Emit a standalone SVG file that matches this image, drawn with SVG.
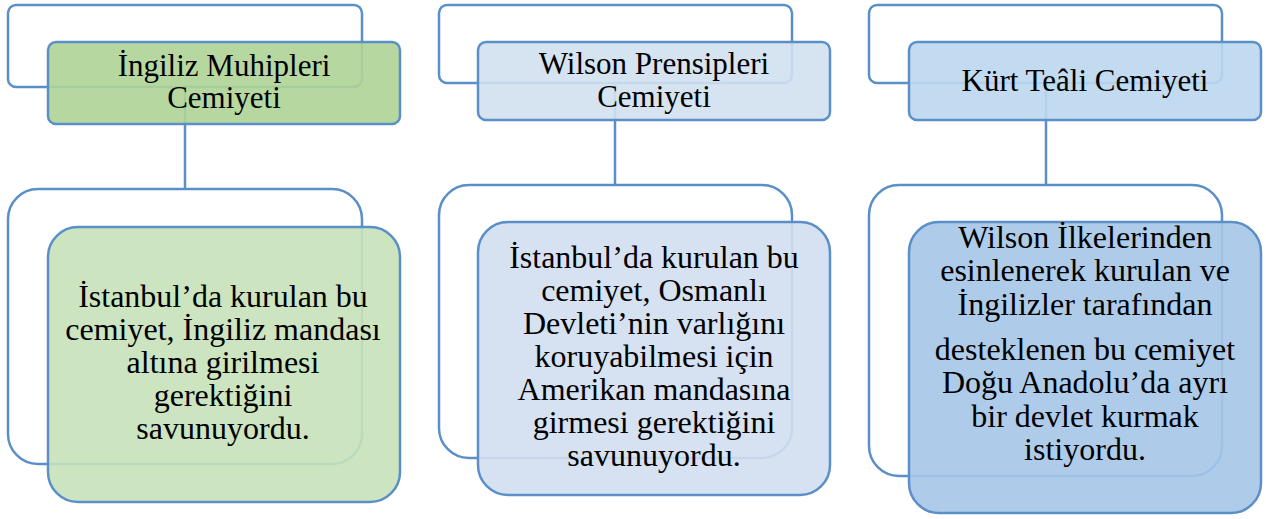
<svg xmlns="http://www.w3.org/2000/svg" width="1266" height="519" viewBox="0 0 1266 519">
<style>
.back{fill:#ffffff;stroke:#5b8fc8;stroke-width:2.5}
.front{stroke:#5b8fc8;stroke-width:2.5;fill-opacity:0.9}
.conn{stroke:#5b8fc8;stroke-width:2.5;fill:none}
text{font-family:"Liberation Serif","Times New Roman",serif;font-size:32px;fill:#000;text-anchor:middle}
text.t{font-size:31px}
.g1{fill:#aed496}
.g2{fill:#c7e2b9}
.b1{fill:#d2e0f0}
.b2{fill:#d2dff0}
.c1{fill:#bcd7ef}
.c2{fill:#a5c7e8}
</style>
<rect width="1266" height="519" fill="#ffffff"/>
<g id="backs">
<rect class="back" x="8" y="5" width="354" height="82" rx="8"/>
<rect class="back" x="8" y="189" width="354" height="275" rx="30"/>
<rect class="back" x="439" y="5" width="353" height="78" rx="8"/>
<rect class="back" x="439" y="185" width="353" height="273" rx="30"/>
<rect class="back" x="869" y="5" width="353" height="78" rx="8"/>
<rect class="back" x="869" y="185" width="353" height="291" rx="30"/>
</g>
<g id="connectors">
<line class="conn" x1="185" y1="85" x2="185" y2="189"/>
<line class="conn" x1="615" y1="85" x2="615" y2="185"/>
<line class="conn" x1="1046" y1="90" x2="1046" y2="185"/>
</g>
<g id="node-ingiliz-title">
<rect class="front g1" x="48" y="42" width="352" height="82" rx="8"/>
<text class="t" x="224" y="76">İngiliz Muhipleri</text>
<text class="t" x="224" y="108">Cemiyeti</text>
</g>
<g id="node-ingiliz-body">
<rect class="front g2" x="48" y="227" width="352" height="275" rx="30"/>
<text x="223" y="307">İstanbul’da kurulan bu</text>
<text x="223" y="340">cemiyet, İngiliz mandası</text>
<text x="223" y="373">altına girilmesi</text>
<text x="223" y="406">gerektiğini</text>
<text x="223" y="439">savunuyordu.</text>
</g>
<g id="node-wilson-title">
<rect class="front b1" x="478" y="42" width="352" height="78" rx="8"/>
<text class="t" x="654" y="74">Wilson Prensipleri</text>
<text class="t" x="654" y="107">Cemiyeti</text>
</g>
<g id="node-wilson-body">
<rect class="front b2" x="478" y="222" width="352" height="273" rx="30"/>
<text x="654" y="268">İstanbul’da kurulan bu</text>
<text x="654" y="301">cemiyet, Osmanlı</text>
<text x="654" y="334">Devleti’nin varlığını</text>
<text x="654" y="367">koruyabilmesi için</text>
<text x="654" y="400">Amerikan mandasına</text>
<text x="654" y="433">girmesi gerektiğini</text>
<text x="654" y="466">savunuyordu.</text>
</g>
<g id="node-kurt-title">
<rect class="front c1" x="909" y="42" width="352" height="78" rx="8"/>
<text class="t" x="1085" y="91">Kürt Teâli Cemiyeti</text>
</g>
<g id="node-kurt-body">
<rect class="front c2" x="909" y="222" width="352" height="291" rx="30"/>
<text x="1085" y="248">Wilson İlkelerinden</text>
<text x="1085" y="281">esinlenerek kurulan ve</text>
<text x="1085" y="315">İngilizler tarafından</text>
<text x="1085" y="360">desteklenen bu cemiyet</text>
<text x="1085" y="393">Doğu Anadolu’da ayrı</text>
<text x="1085" y="427">bir devlet kurmak</text>
<text x="1085" y="460">istiyordu.</text>
</g>
</svg>
